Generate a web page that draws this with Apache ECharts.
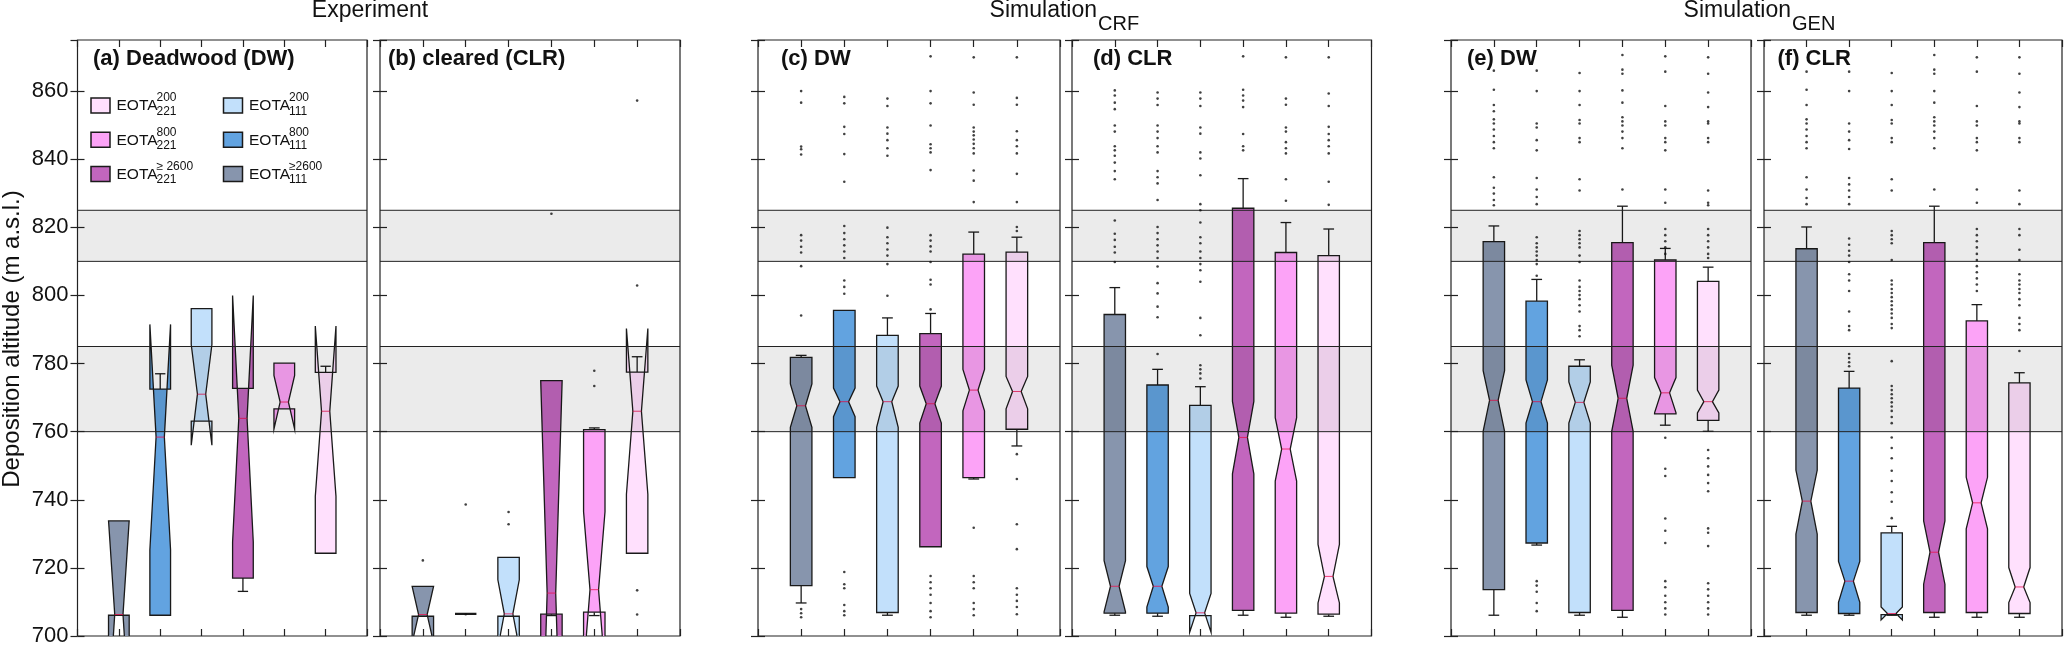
<!DOCTYPE html>
<html>
<head>
<meta charset="utf-8">
<script src="https://cdn.jsdelivr.net/npm/echarts@6/dist/echarts.min.js"></script>
<style>
html,body{margin:0;padding:0;background:#fff;}
#chart{width:2067px;height:647px;}
</style>
</head>
<body>
<div id="chart"></div>
<script>
// ---------------- DATA ----------------
// box order (x = 1..6) in every panel
const categories = ['EOTA≥2600_111', 'EOTA800_111', 'EOTA200_111', 'EOTA≥2600_221', 'EOTA800_221', 'EOTA200_221'];
const yTicks = [700, 720, 740, 760, 780, 800, 820, 840, 860];
const groupTitles = ['Experiment', 'Simulation', 'Simulation'];
const groupSubs = ['', 'CRF', 'GEN'];
const panelTitles = ['(a) Deadwood (DW)', '(b) cleared (CLR)', '(c) DW', '(d) CLR', '(e) DW', '(f) CLR'];
const bands = [[760, 785], [810, 825]];
const legendSup = ['200', '200', '800', '800', '≥ 2600', '≥2600'];
const legendSub = ['221', '111', '221', '111', '221', '111'];
const legendCat = [5, 2, 4, 1, 3, 0];

// each box: [whiskerLow, q1, median, q3, whiskerHigh, notchLow, notchHigh]
const boxA = [
  [706.1, 706.1, 706.3, 733.8, 733.8, 678.0, 734.0],
  [706.1, 706.1, 758.4, 772.5, 777.0, 725.3, 791.5],
  [763.1, 763.1, 771.0, 796.1, 796.1, 756.0, 785.6],
  [713.1, 717.0, 763.9, 772.7, 772.7, 727.6, 800.0],
  [766.7, 766.7, 768.7, 780.1, 780.1, 760.8, 776.5],
  [724.3, 724.3, 766.0, 777.4, 779.2, 741.0, 791.0]
];
const boxB = [
  [705.8, 705.8, 706.3, 714.6, 714.6, 698.0, 714.6],
  [706.5, 706.5, 706.5, 706.5, 706.5, 706.5, 706.5],
  [705.8, 705.8, 706.5, 723.1, 723.1, 696.5, 716.5],
  [706.0, 706.4, 712.6, 775.0, 775.0, 650.0, 775.0],
  [706.0, 707.0, 713.6, 760.6, 761.1, 690.0, 736.5],
  [724.3, 724.3, 766.0, 777.5, 782.0, 741.6, 790.3]
];
const boxC = [
  [709.7, 714.8, 767.6, 781.8, 782.4, 761.3, 774.0],
  [746.5, 746.5, 768.8, 795.6, 795.6, 764.4, 772.8],
  [706.1, 706.9, 768.8, 788.3, 793.4, 761.3, 773.4],
  [726.2, 726.2, 768.2, 788.8, 794.7, 762.5, 773.4],
  [746.1, 746.5, 772.2, 812.1, 818.6, 766.1, 778.3],
  [755.8, 760.7, 771.8, 812.7, 817.1, 766.7, 776.2]
];
const boxD = [
  [706.1, 706.7, 714.6, 794.4, 802.3, 707.1, 722.1],
  [705.8, 706.7, 714.6, 773.7, 778.3, 708.5, 720.4],
  [706.0, 706.0, 706.8, 767.7, 773.2, 701.1, 712.5],
  [706.1, 707.5, 758.3, 825.6, 834.3, 747.6, 768.9],
  [705.5, 706.7, 754.9, 812.6, 821.4, 745.5, 764.1],
  [705.8, 706.4, 717.5, 811.7, 819.5, 709.7, 726.9]
];
const boxE = [
  [706.1, 713.6, 769.2, 815.8, 820.4, 760.1, 777.9],
  [726.7, 727.3, 768.8, 798.3, 804.7, 762.5, 775.2],
  [706.1, 706.9, 768.6, 779.2, 781.1, 762.5, 774.6],
  [705.5, 707.5, 769.8, 815.5, 826.2, 760.1, 779.5],
  [761.9, 765.2, 771.4, 810.4, 813.8, 765.5, 775.9],
  [760.1, 763.3, 768.8, 804.1, 808.3, 765.5, 772.2]
];
const boxF = [
  [706.1, 706.9, 739.6, 813.7, 820.1, 729.9, 748.7],
  [706.1, 706.6, 716.1, 772.8, 777.7, 709.9, 721.9],
  [706.1, 706.3, 706.6, 730.3, 732.2, 704.7, 708.5],
  [705.5, 706.9, 724.6, 815.5, 826.2, 715.2, 733.8],
  [705.5, 706.9, 739.1, 792.5, 797.3, 731.5, 746.6],
  [705.5, 706.6, 714.4, 774.3, 777.3, 709.8, 720.1]
];

// outliers per box
const outA = [[], [], [], [], [], []];
const outB = [
  [722.2],
  [738.6, 706.4],
  [736.4, 732.8],
  [824.0],
  [777.9, 773.4],
  [857.2, 802.9, 713.4, 706.3]
];
const outC = [
  [860, 856.6, 843.7, 842.9, 841.4, 817.7, 816.1, 814.3, 812.6, 808.6, 794.1, 707.9, 706.7, 705.5],
  [858.3, 856.4, 849.5, 847.4, 841.5, 833.4, 820.4, 818.3, 816.5, 814.7, 812.9, 811, 804.4, 802.5, 800.5, 718.8, 715.2, 714, 709.1, 707.3, 706.1],
  [857.8, 855.6, 849.3, 847.5, 845.6, 843.2, 841, 819.9, 817.1, 815.3, 813.5, 811.7, 809.2, 799.9],
  [870.2, 860, 856.4, 849.9, 844.4, 843.2, 842, 836.8, 817.7, 816.1, 814.4, 812.9, 809.8, 804.6, 803.2, 795.9, 717.6, 715.8, 714, 712.1, 709.7, 707.3, 705.5],
  [869.9, 859.6, 856, 849.3, 848.1, 847, 845.8, 844.5, 843.2, 841.7, 836.7, 833.7, 827.4, 731.8, 717.6, 715.8, 714, 709.7, 707.9, 706.1],
  [869.9, 858, 856, 848.2, 845.6, 843.8, 841.7, 835.7, 827.4, 820.1, 818.9, 753.4, 746.1, 732.8, 725.5, 714, 712.1, 710.3, 708.5, 706.4]
];
const outD = [
  [860.2, 858.7, 856.6, 854.7, 849.9, 848.1, 843.8, 842.6, 841, 839, 836.5, 834.1, 822, 818.1, 816.3, 814.3, 812.6, 809.8],
  [859.6, 857.8, 855.9, 849.9, 848.1, 846.2, 843.8, 842, 836.5, 834.7, 832.9, 828, 820.1, 818.3, 816.5, 814.7, 812.9, 811, 808.5, 803.6, 800.6, 796.7, 793.6, 782.8],
  [859.6, 857.8, 855.6, 849.3, 847.5, 842, 840.2, 835.3, 826.8, 825, 821.4, 817.1, 815.3, 812.9, 811, 809.2, 807.4, 804, 793.4, 788.3, 779.5, 778.3, 777.1, 775.6],
  [870.2, 860.4, 858.7, 857.2, 855.3, 847.4, 843.8, 842.6],
  [869.9, 857.8, 856, 849.3, 848.1, 845, 843.2, 841.7, 834.1, 827.8],
  [869.9, 859.3, 855.6, 849.5, 847.4, 845.6, 843.8, 841.7, 833.4, 826.6]
];
const outE = [
  [866, 860.4, 855.9, 854.1, 851.7, 850.5, 848.7, 846.8, 845, 843.2, 834.7, 831.6, 829.9, 828, 826.5],
  [866, 860, 850.5, 849.3, 845.6, 842.6, 834.5, 831.1, 828.9, 826.8, 817.1, 815.3, 814.1, 812.9, 811.7, 810.4, 809.2, 805.8, 716.1, 714.8, 713, 709.7, 707.3],
  [865.3, 860, 855.9, 851.5, 850.5, 846.2, 845, 834.1, 830.8, 818.9, 817.7, 816.5, 815.3, 814.1, 811.7, 809.8, 804.4, 802.5, 801.3, 800.1, 798.9, 797.1, 795.3, 791, 789.8, 788],
  [870.6, 866.3, 865.1, 860.2, 856.6, 852.3, 851.1, 849.9, 848.1, 846.2, 843.2, 831.1],
  [870.2, 865.7, 855.6, 851.1, 849.9, 846.2, 845, 842.6, 831.1, 827.2, 819.5, 817.7, 815.9, 814.1, 812.2, 758.2, 749.1, 747, 734.5, 730.9, 727.3, 716.1, 714.3, 711.8, 709.9, 708.1, 706.3],
  [869.9, 865.1, 859.6, 855.3, 851.1, 850.5, 846.2, 845, 830.8, 827.2, 826.5, 819.5, 817.7, 815.9, 814.1, 812.2, 811, 754.6, 752.2, 749.8, 747.3, 744.9, 742.5, 731.6, 730.3, 726.4, 715.5, 713.7, 711.8, 709.9, 708.1, 706.3]
];
const outF = [
  [865.7, 860.4, 855.9, 851.7, 850.5, 848.7, 846.8, 845, 843.2, 834.7, 831.1, 828.6, 826.8],
  [865.7, 860, 850.5, 848.1, 845.6, 843, 834.5, 832.6, 830.8, 828.9, 826.8, 816.7, 814.9, 813.1, 811.7, 809.8, 806.2, 804.4, 801.3, 795.3, 791, 789.8, 782.8, 781.6, 780.4, 779.2],
  [865.3, 860, 855.9, 851.5, 850.5, 846.2, 845, 834.1, 830.8, 818.9, 817.7, 816.5, 815.3, 810.4, 804.4, 803.2, 801.9, 800.7, 799.5, 798.3, 797.1, 795.9, 794.7, 793.4, 791.6, 790.4, 780.7, 773.4, 772.2, 771, 769.8, 768.6, 767.4, 766.1, 764.3, 762.5, 758.3, 755.2, 752.2, 748.5, 745.5, 742.2, 739.4, 734.6],
  [870.6, 866.3, 865.1, 860, 856.6, 852.3, 851.1, 849.9, 848.1, 846.2, 843.2, 831.1],
  [869.9, 865.7, 855.6, 851.1, 849.9, 846.2, 845, 842.6, 831.1, 827.2, 819.5, 817.7, 815.9, 814.1, 812.2, 810.4, 808.6, 806.8, 805, 803.2, 801.3],
  [869.9, 865.1, 859.6, 855.3, 851.1, 850.5, 846.2, 845, 830.8, 826.8, 819.5, 817.7, 813.4, 810.4, 806.2, 804.4, 803.2, 801.9, 800.7, 798.9, 797.1, 793.4, 791.6, 789.8, 783.7]
];

// ---------------- STYLE / LAYOUT ----------------
const boxColors = ['#8795ad', '#62a3e0', '#c2e0fb', '#c266be', '#fca3f7', '#ffe0fd'];
const FONT = '"Liberation Sans", Arial, Helvetica, sans-serif';
const INK = '#1a1a1a';
const BOX_WIDTH = 0.5;
const NOTCH_RATIO = 0.4;
const GRID_TOP = 40, GRID_H = 596;
const panelLayout = [
  { left: 77.5, width: 289.5, titleX: 93 },
  { left: 380, width: 300, titleX: 388 },
  { left: 758, width: 302, titleX: 781 },
  { left: 1072, width: 299.5, titleX: 1093 },
  { left: 1451, width: 300, titleX: 1467 },
  { left: 1764, width: 298, titleX: 1777.5 }
];
const boxSets = [boxA, boxB, boxC, boxD, boxE, boxF];
const outSets = [outA, outB, outC, outD, outE, outF];

function renderBox(params, api) {
  const x = api.value(0);
  const lo = api.value(1), q1 = api.value(2), med = api.value(3), q3 = api.value(4),
        hi = api.value(5), nlo = api.value(6), nhi = api.value(7);
  const hw = api.size([BOX_WIDTH, 0])[0] / 2;
  const nw = hw * NOTCH_RATIO;
  const cx = api.coord([x, med])[0];
  const Y = v => api.coord([x, v])[1];
  const children = [];
  if (hi > q3) {
    children.push({ type: 'line', shape: { x1: cx, y1: Y(q3), x2: cx, y2: Y(hi) }, style: { stroke: INK, lineWidth: 1.3 } });
    children.push({ type: 'line', shape: { x1: cx - hw / 2, y1: Y(hi), x2: cx + hw / 2, y2: Y(hi) }, style: { stroke: INK, lineWidth: 1.3 } });
  }
  if (lo < q1) {
    children.push({ type: 'line', shape: { x1: cx, y1: Y(q1), x2: cx, y2: Y(lo) }, style: { stroke: INK, lineWidth: 1.3 } });
    children.push({ type: 'line', shape: { x1: cx - hw / 2, y1: Y(lo), x2: cx + hw / 2, y2: Y(lo) }, style: { stroke: INK, lineWidth: 1.3 } });
  }
  const pts = [
    [cx - hw, Y(q1)], [cx - hw, Y(nlo)], [cx - nw, Y(med)], [cx - hw, Y(nhi)], [cx - hw, Y(q3)],
    [cx + hw, Y(q3)], [cx + hw, Y(nhi)], [cx + nw, Y(med)], [cx + hw, Y(nlo)], [cx + hw, Y(q1)]
  ];
  const flat = q3 - q1 < 0.01;
  children.push({ type: 'polygon', shape: { points: pts },
    style: { fill: boxColors[params.dataIndex], stroke: INK, lineWidth: flat ? 2.2 : 1.3 } });
  if (!flat) {
    children.push({ type: 'line', shape: { x1: cx - nw, y1: Y(med), x2: cx + nw, y2: Y(med) },
      style: { stroke: 'rgba(235,20,80,0.8)', lineWidth: 1 } });
  }
  return { type: 'group', children };
}

function renderBand(params, api) {
  const pTop = api.coord([0, api.value(2)]);
  const pBot = api.coord([7, api.value(1)]);
  return { type: 'group', children: [
    { type: 'rect', shape: { x: pTop[0], y: pTop[1], width: pBot[0] - pTop[0], height: pBot[1] - pTop[1] },
      style: { fill: 'rgba(0,0,0,0.08)' } },
    { type: 'line', shape: { x1: pTop[0], y1: pTop[1], x2: pBot[0], y2: pTop[1] }, style: { stroke: '#222', lineWidth: 1 } },
    { type: 'line', shape: { x1: pTop[0], y1: pBot[1], x2: pBot[0], y2: pBot[1] }, style: { stroke: '#222', lineWidth: 1 } }
  ] };
}

const grid = [], xAxis = [], yAxis = [], series = [];
panelLayout.forEach((p, i) => {
  grid.push({ left: p.left, top: GRID_TOP, width: p.width, height: GRID_H, show: true,
    borderColor: '#222', borderWidth: 1.2, backgroundColor: 'transparent' });
  ['bottom', 'top'].forEach(pos => xAxis.push({
    gridIndex: i, type: 'value', min: 0, max: 7, interval: 1, position: pos,
    axisLine: { show: false }, splitLine: { show: false }, axisLabel: { show: false },
    axisTick: { show: true, inside: true, length: 7, lineStyle: { color: '#222', width: 1.2 } }
  }));
  ['left', 'right'].forEach(pos => yAxis.push({
    gridIndex: i, type: 'value', min: yTicks[0], max: 875, interval: 20, position: pos,
    axisLine: { show: false }, splitLine: { show: false },
    axisTick: { show: true, inside: true, length: 7, lineStyle: { color: '#222', width: 1.2 } },
    axisLabel: { show: i === 0 && pos === 'left', showMaxLabel: false, fontSize: 22, color: '#111',
      fontFamily: FONT, margin: 9 }
  }));
  series.push({
    type: 'custom', xAxisIndex: 2 * i, yAxisIndex: 2 * i, clip: true, z: 2,
    renderItem: renderBox, encode: { x: 0, y: [1, 2, 3, 4, 5] },
    data: boxSets[i].map((b, k) => [k + 1].concat(b))
  });
  series.push({
    type: 'custom', xAxisIndex: 2 * i, yAxisIndex: 2 * i, clip: true, z: 3,
    renderItem: renderBand, encode: { x: 0, y: [1, 2] }, silent: true,
    data: bands.map(b => [3.5, b[0], b[1]])
  });
  const pts = [];
  outSets[i].forEach((arr, k) => arr.forEach(v => pts.push([k + 1, v])));
  series.push({
    type: 'scatter', xAxisIndex: 2 * i, yAxisIndex: 2 * i, z: 4, symbol: 'circle', symbolSize: 2.6,
    itemStyle: { color: '#111' }, data: pts, silent: true
  });
});

// ---------------- TEXT / LEGEND (graphic) ----------------
const graphic = [];
// group titles
graphic.push({ type: 'text', x: 370, y: 10.5, style: { text: groupTitles[0], font: '23px ' + FONT, fill: '#111', textAlign: 'center', textVerticalAlign: 'middle' } });
[[1097, 1], [1791, 2]].forEach(([gx, g]) => {
  graphic.push({ type: 'text', x: gx, y: 10.5, style: { text: groupTitles[g], font: '23px ' + FONT, fill: '#111', textAlign: 'right', textVerticalAlign: 'middle' } });
  graphic.push({ type: 'text', x: gx + 1, y: 24, style: { text: groupSubs[g], font: '20px ' + FONT, fill: '#111', textAlign: 'left', textVerticalAlign: 'middle' } });
});
// panel titles
panelLayout.forEach((p, i) => {
  graphic.push({ type: 'text', x: p.titleX, y: 59, z: 10, style: { text: panelTitles[i], font: 'bold 22px ' + FONT, fill: '#111', textAlign: 'left', textVerticalAlign: 'middle' } });
});
// y axis name
graphic.push({ type: 'text', x: 12, y: 339, rotation: Math.PI / 2, style: { text: 'Deposition altitude (m a.s.l.)', font: '24px ' + FONT, fill: '#111', textAlign: 'center', textVerticalAlign: 'middle' } });
// legend
const legCols = [91, 223.5], legRows = [105.5, 139.8, 174];
legendCat.forEach((cat, j) => {
  const lx = legCols[j % 2], ly = legRows[Math.floor(j / 2)];
  graphic.push({ type: 'rect', z: 10, shape: { x: lx, y: ly - 7.5, width: 19, height: 15 }, style: { fill: boxColors[cat], stroke: INK, lineWidth: 1.5 } });
  graphic.push({ type: 'text', z: 10, x: lx + 25.5, y: ly + 0.5, style: { text: 'EOTA', font: '15.5px ' + FONT, fill: '#111', textAlign: 'left', textVerticalAlign: 'middle' } });
  graphic.push({ type: 'text', z: 10, x: lx + 65.5, y: ly - 7.5, style: { text: legendSup[j], font: '12px ' + FONT, fill: '#111', textAlign: 'left', textVerticalAlign: 'middle' } });
  graphic.push({ type: 'text', z: 10, x: lx + 65.5, y: ly + 6, style: { text: legendSub[j], font: '12px ' + FONT, fill: '#111', textAlign: 'left', textVerticalAlign: 'middle' } });
});

const chart = echarts.init(document.getElementById('chart'), null, { renderer: 'canvas', width: 2067, height: 647 });
chart.setOption({
  backgroundColor: '#ffffff',
  animation: false,
  textStyle: { fontFamily: FONT },
  grid, xAxis, yAxis, series, graphic
});
</script>
</body>
</html>
